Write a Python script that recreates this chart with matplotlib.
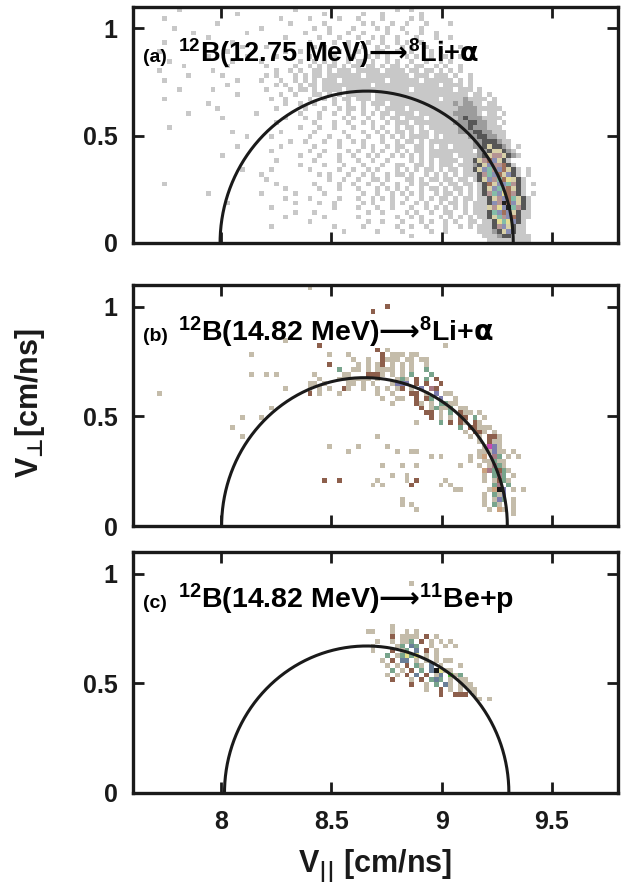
import numpy as np
import matplotlib
matplotlib.use("Agg")
import matplotlib.pyplot as plt
from matplotlib.colors import ListedColormap

plt.rcParams['font.family'] = ['Liberation Sans', 'DejaVu Sans']
plt.rcParams['font.weight'] = 'bold'
plt.rcParams['mathtext.fontset'] = 'custom'
plt.rcParams['mathtext.rm'] = 'Liberation Sans:bold'
plt.rcParams['mathtext.bf'] = 'Liberation Sans:bold'
plt.rcParams['mathtext.it'] = 'Liberation Sans:bold'
plt.rcParams['mathtext.sf'] = 'DejaVu Sans'
plt.rcParams['mathtext.fallback'] = 'stix'
plt.rcParams['mathtext.default'] = 'rm'

# histogram binning: 80 columns from v_par = 7.71, 50 rows from v_perp = 0
x0, bin_w = 7.71, 0.022
n_cols, n_rows = 80, 50

# cell maps, top row (v_perp ~ 1.09) first,
# each row written as 8 blocks of 10 cells
# panel (a): '1' light grey, '2' grey, '3' dark grey, then colours for high counts
keys_a = ".123456789k"
colors_a = ['#ffffff', '#c8c8c8', '#9c9c9c', '#565656', '#d8d0a8', '#b49494',
            '#8a8fb4', '#84bca8', '#a0705c', '#e4dc94', '#202020']
grid_a = [
    "....1....." ".........." "........1." ".........." ".........1" "..1......." ".........." "..........",
    ".........." "......1..." ".........." "....1....." "..1...1..." "....1....." ".........." "..........",
    ".1........" ".........." ".....1...." ".1.....1.." ".1....1..." "..1.1....." ".........." "..........",
    ".........." "..1......." ".......1.." "....1....." "..1.1...1." ".1...1...." "1........." "..........",
    "...1......" ".........." ".1........" "..1..1...." "1....1.1.." "1...1....." ".........." "..........",
    ".......1.." "........1." ".........." "1....1...1" "..1....1.." ".1..1..1.." ".........." "..........",
    ".........." "1........." "......1..." "...1...1.." ".1..1.1..1" "...1...1.." "1........." "..........",
    ".1........" ".....1...." ".........." ".1....1..1" "...1..1..1" ".1..1...1." ".........." "..........",
    ".........." ".......1.." "..1......." "..1.1....1" "..1..1.1.." "1.1..1...." "..1......." "..........",
    "1........." "....1....." "......1..1" "....1..1.1" ".1...11..1" "..1...1.1." ".........." "..........",
    ".........." "1.......1." "....1....." ".1..1.1..1" "1..1.1.1.." ".1.1..1..1" "..1......." "..........",
    "..1......." ".....1...." ".1.......1" "..1.1.1..1" ".11.1..1.1" "..1..1..1." "1........." "..........",
    ".....1...." "....1....." "..1.....1." ".1.1.11.1." "11.11.1.11" ".1.11..1.1" "..1......." "..........",
    "1........." ".1........" "....1..1.1" "..11.1.111" ".11111.111" "1.11.11.1." "1.1......." "..........",
    "......1..." "...1......" "..1.1...1." "1.11.11111" "11.1111111" "11.111.111" ".1..1....." "..........",
    ".1........" "......1..." ".1...1..1." "1.1.111.11" "1111111.11" "1111.11111" "1.1.1....." "..........",
    ".........." "....1....." "....1.1..1" ".11.111111" "1111.11111" "11111111.1" "111.1....." "..........",
    "....1....." ".1........" "..1....1.1" "1.1.1111.1" "1111111111" "11.1111111" "1.111.1..." "..........",
    ".........." "......1..." ".....1..1." "..11.1.1.1" "1111.11111" "1111111111" "1111.11.1." "..........",
    ".1........" ".........." "...1..1..." ".1..1.1.11" ".111.11111" "11111111.1" "11121111.1" "..........",
    ".........." "1........." "......1..1" "..1...1..1" "..1.111.11" "1111111111" "1212211.11" "..........",
    ".........." "..1......." "....1....." "1...1..1.1" "1.1..1.111" "1.11111111" "1122221111" "1.........",
    "......1..." ".........." "1........1" "...1..1..1" "..1.1.11.1" "111.111111" "1222221.11" ".1........",
    ".........." "...1......" "......1..." "1..1....1." "1..1..1.11" ".1111.1111" "1123222111" "1.........",
    ".........." ".........." "....1....." "..1...1..1" "..1.1..1.1" "11.1111111" "1222332211" ".1........",
    "..1......." ".........." ".........1" "...1..1..." "1...1.1..1" ".11.1.1111" "1122322211" "1.........",
    ".........." ".....1...." ".....1...." "..1.....1." "..1..1.1.1" "1.1.11.111" "1122233221" "11........",
    ".........." "........1." "...1......" ".1...1...1" "...1..1.1." "1.1111.1.1" "1111223322" "11........",
    ".........." ".........." ".......1.." "1...1..1.." "1.1...1..1" ".11.1.1111" "1111122333" "211.......",
    ".........." "......1..." ".....1...." "..1....1.." "..1.1..1.1" "1..11.1.11" ".111122343" "321.1.....",
    ".........." ".........." "...1......" ".1..1....1" ".1..1.1..1" ".1.11.1111" "11111.2234" "4321......",
    ".........." "...1......" ".........1" "...1...1.." "1..1.1..1." "1.1.1.1111" "1.11112345" "54321.....",
    ".........." ".........." "....1....." "..1....1.." ".1..1..1.." "..1.1.1.11" "11.1134586" "431.......",
    ".........." ".........." ".........1" "....1...1." "..1...1..1" "1..11.1.11" "1.11123465" "5831......",
    ".........." ".......1.." "...1......" ".1.....1.." "1..1.1...1" ".1.1.11.1." "11.1134675" "68431.1...",
    ".........." ".........." ".1........" "...1.1...1" "..1.1..1.1" "1.1..1.1.1" ".1.1113576" "84631.1...",
    ".........." ".........." "..1......." ".....1..1." ".1..11.1.." ".11.1.11.1" "1.11.13465" "789431....",
    ".1........" ".........." "....1....." "..1....1.." "1..1..1..1" "..1.11..1." "11.11.1384" "667531.1..",
    ".........." ".........." "......1..." "...1...1.." ".1...1.1.1" ".1..1.11.1" ".11.1.1346" "758431....",
    ".........." "1........." ".1......1." "....1....." "..1..1..1." "1.1.1..1.1" "1.1.1.1357" "698531.1..",
    ".........." ".........." "......1..." ".1.....1.." ".1..1.1.1." ".1..1.1.11" ".1.11.1134" "5687431...",
    ".........." "....1....." "........1." "...1..1..." "..1.1...1." "1..1.1..1." "11.1.11136" "5k86431...",
    ".........." ".........." "...1......" "......1..." ".1...1..1." "..1..1.1.1" ".1.1.11145" "96k7531...",
    ".........." ".........." "........1." "..1......." "...1..1..." ".1.1..1..1" "1..1.11137" "6864311...",
    ".........." ".........." "......1..." "....1....." ".1.......1" "..1.1...1." "1.1.1.1134" "7568311...",
    ".........." ".........." ".........." ".1........" "...1..1..." "1...1.1..1" ".1..11.113" "979631....",
    ".........." ".........." "...1......" "......1..." "..1......1" "..1..1...1" "..1.1.1113" "564311....",
    ".........." ".........." ".........." "........1." ".....1...." "1.....1..1" "......1112" "346311....",
    ".........." ".........." ".........." ".........." ".........." "..1......." ".......111" "2331111...",
    ".........." ".........." ".........." ".........." ".........." ".........." "........11" "1111111...",
]

# panel (b): '1' grey-beige single counts, '2' brown, '3' green, '4' blue, ...
keys_b = ".1234567k"
colors_b = ['#ffffff', '#c4bcaa', '#8d5f4c', '#78a48c', '#7c7cae', '#a87a86',
            '#caa27e', '#c848b0', '#151515']
grid_b = [
    "...............................1................................................",
    "................................................................................",
    "................................................................................",
    "................................................................................",
    "...............................................2................................",
    "............................................2...................................",
    "................................................................................",
    "................................................................................",
    "....................1...........................................................",
    "................................................................................",
    "................................................................................",
    "..........................1.....................................................",
    ".................................2.........................1....................",
    ".............................................2.1................................",
    "...................1...............1...1......2.111.11..........................",
    "........................................1..1..2111.11.11.......................",
    "...................................2.....1.1.12.1.1.1..1........................",
    ".....................................3..11.1.1111.1.1..3........................",
    "...................1..1.1.......1.....11...2221.1.1.3...3.......................",
    ".................................1...1111111.1...131.2.3.2.......................",
    "...............................11.1....11.1.1...1444.2.2..2.....................",
    "..........................1....1.1.1..21..1..1.1.12.1.4.52......................",
    "1..............................2.1...1.......1..1...22.1.4.11...................",
    "..............................................1..11..2.23.4..1..................",
    "................................................1....21.1.3311..................",
    ".......................1..............................2.13113.11.................",
    ".......................................................22.1.3.211.1..............",
    ".................1...1..................................2.1.1.22.3.1.............",
    ".....................................................1....3.2.21.21..............",
    "...............1..............................................3.22111............",
    "...............................................................1.221.1..........",
    ".................1...........................1..................1.1.221..........",
    "..................................................................1.211..........",
    "...................................1.....1.....1...................1741.........",
    ".......................................1.........1..11............111411.1.......",
    "........................................................1.1.....1.16.53.1.1.....",
    "................................................................1..11311........",
    "..............................................1...1..1........1...1.1531........",
    "...................................................................653231........",
    "................................................1..1...............1.353.1......",
    "..................................2..2.......1.....1.2.....1.......1.1231........",
    "............................................1.1.....2.....1.1........35.3.......",
    ".............................................................11.....16k4.1.1....",
    "...................................................................1.314.........",
    "..................................................1................1.143.1......",
    "..................................................1.1..............1.31..1......",
    ".....................................................1..............1.61.1......",
    ".........................................................................1......",
    "................................................................................",
    "................................................................................",
]

# panel (c): same palette family, '4' slate, '5' yellow, '6' green
keys_c = ".123456k"
colors_c = ['#ffffff', '#c4bcaa', '#8d5f4c', '#78a48c', '#6a7f98', '#e4e08a',
            '#58c040', '#151515']
grid_c = ["." * 80] * 6 + [
    "....................................................1...........................",
] + ["." * 80] * 8 + [
    "................................................1...............................",
    "...........................................11...1..1.1..........................",
    "................................................2.1111.2.1......................",
    ".............................................1..1.113.2.1.1.1...................",
    "............................................1....13.43..1..1.1..................",
    "............................................1...2.13.4.2.1.....................",
    "...............................................3.13535.1.1.....................",
    "..............................................1.2.44.1.1.1.11..................",
    "...............................................1.1.2.31.4.1...1.................",
    "................................................3.1.2.3.4k511..................",
    "...............................................1.1.2.4.2.14.613.................",
    "................................................2...1.2.343.1.11................",
    "....................................................2..1.3.41.111...............",
    ".......................................................1..2.1.1.11..............",
    "..........................................................2..222.1..............",
    "..................................................................1.1...........",
] + ["." * 80] * 19

# kinematic circles: centre (v_par), radius in v_par, height in v_perp
circle_center = [8.66, 8.65, 8.66]
circle_rx = [0.665, 0.648, 0.645]
circle_ry = [0.708, 0.677, 0.671]

labels_tag = ["(a)", "(b)", "(c)"]
labels_text = [r"${}^{12}$B(12.75 MeV)$\mathsf{⟶}$${}^{8}$Li+$\mathsf{α}$",
               r"${}^{12}$B(14.82 MeV)$\mathsf{⟶}$${}^{8}$Li+$\mathsf{α}$",
               r"${}^{12}$B(14.82 MeV)$\mathsf{⟶}$${}^{11}$Be+p"]
label_size = [19.5, 20.5, 20.5]

x_ticks = [8, 8.5, 9, 9.5]
x_ticklabels = ["8", "8.5", "9", "9.5"]
y_ticks = [0, 0.5, 1]
y_ticklabels = ["0", "0.5", "1"]


def grid_to_counts(rows, keys):
    arr = np.zeros((n_rows, n_cols))
    for i, row in enumerate(rows[:n_rows]):
        row = row.ljust(n_cols, ".")[:n_cols]
        for j, ch in enumerate(row):
            arr[n_rows - 1 - i, j] = keys.index(ch) if ch in keys else 0
    return np.ma.masked_equal(arr, 0)


fig = plt.figure(figsize=(6.24, 8.86), dpi=100)
L, W = 133 / 624, 485 / 624
boxes = [(243, 236), (526, 241), (793, 241)]  # bottom pixel, height pixel

x_edges = x0 + bin_w * np.arange(n_cols + 1)
y_edges = bin_w * np.arange(n_rows + 1)

panels = [(grid_a, keys_a, colors_a), (grid_b, keys_b, colors_b), (grid_c, keys_c, colors_c)]

for k, (grid, keys, cols) in enumerate(panels):
    bot, h = boxes[k]
    ax = fig.add_axes([L, 1 - bot / 886, W, h / 886])
    counts = grid_to_counts(grid, keys)
    ax.pcolormesh(x_edges, y_edges, counts, cmap=ListedColormap(cols),
                  vmin=-0.5, vmax=len(cols) - 0.5, shading='flat',
                  linewidth=0, antialiased=False, zorder=1)

    t = np.linspace(0, np.pi, 300)
    ax.plot(circle_center[k] + circle_rx[k] * np.cos(t), circle_ry[k] * np.sin(t),
            color='#1a1a1a', lw=2.2, zorder=3, solid_capstyle='butt')

    ax.text(7.645, 0.845, labels_tag[k], fontsize=14, fontweight='bold', zorder=4)
    ax.text(7.805, 0.845, labels_text[k], fontsize=label_size[k], fontweight='bold', zorder=4)

    ax.set_xlim(7.6, 9.8)
    ax.set_ylim(0, 1.1)
    ax.set_xticks(x_ticks)
    ax.set_xticklabels(x_ticklabels)
    ax.set_yticks(y_ticks)
    ax.set_yticklabels(y_ticklabels)
    ax.tick_params(direction='in', top=True, right=True, length=8, width=2,
                   labelsize=18, colors='#1a1a1a')
    ax.tick_params(axis='y', pad=11)
    ax.tick_params(axis='x', pad=12, labelbottom=(k == 2))
    for s in ax.spines.values():
        s.set_linewidth(2.4)
        s.set_color('#1a1a1a')

fig.text(30 / 624, 1 - 403 / 886, r"V$_{\mathsf{⊥}}$[cm/ns]", rotation=90, fontsize=22,
         ha='center', va='center', color='#1a1a1a')
fig.text(375 / 624, 1 - 866 / 886, r"V$_{\mathsf{||}}$ [cm/ns]", fontsize=22,
         ha='center', va='center', color='#1a1a1a')

fig.savefig("out.png", dpi=100)
